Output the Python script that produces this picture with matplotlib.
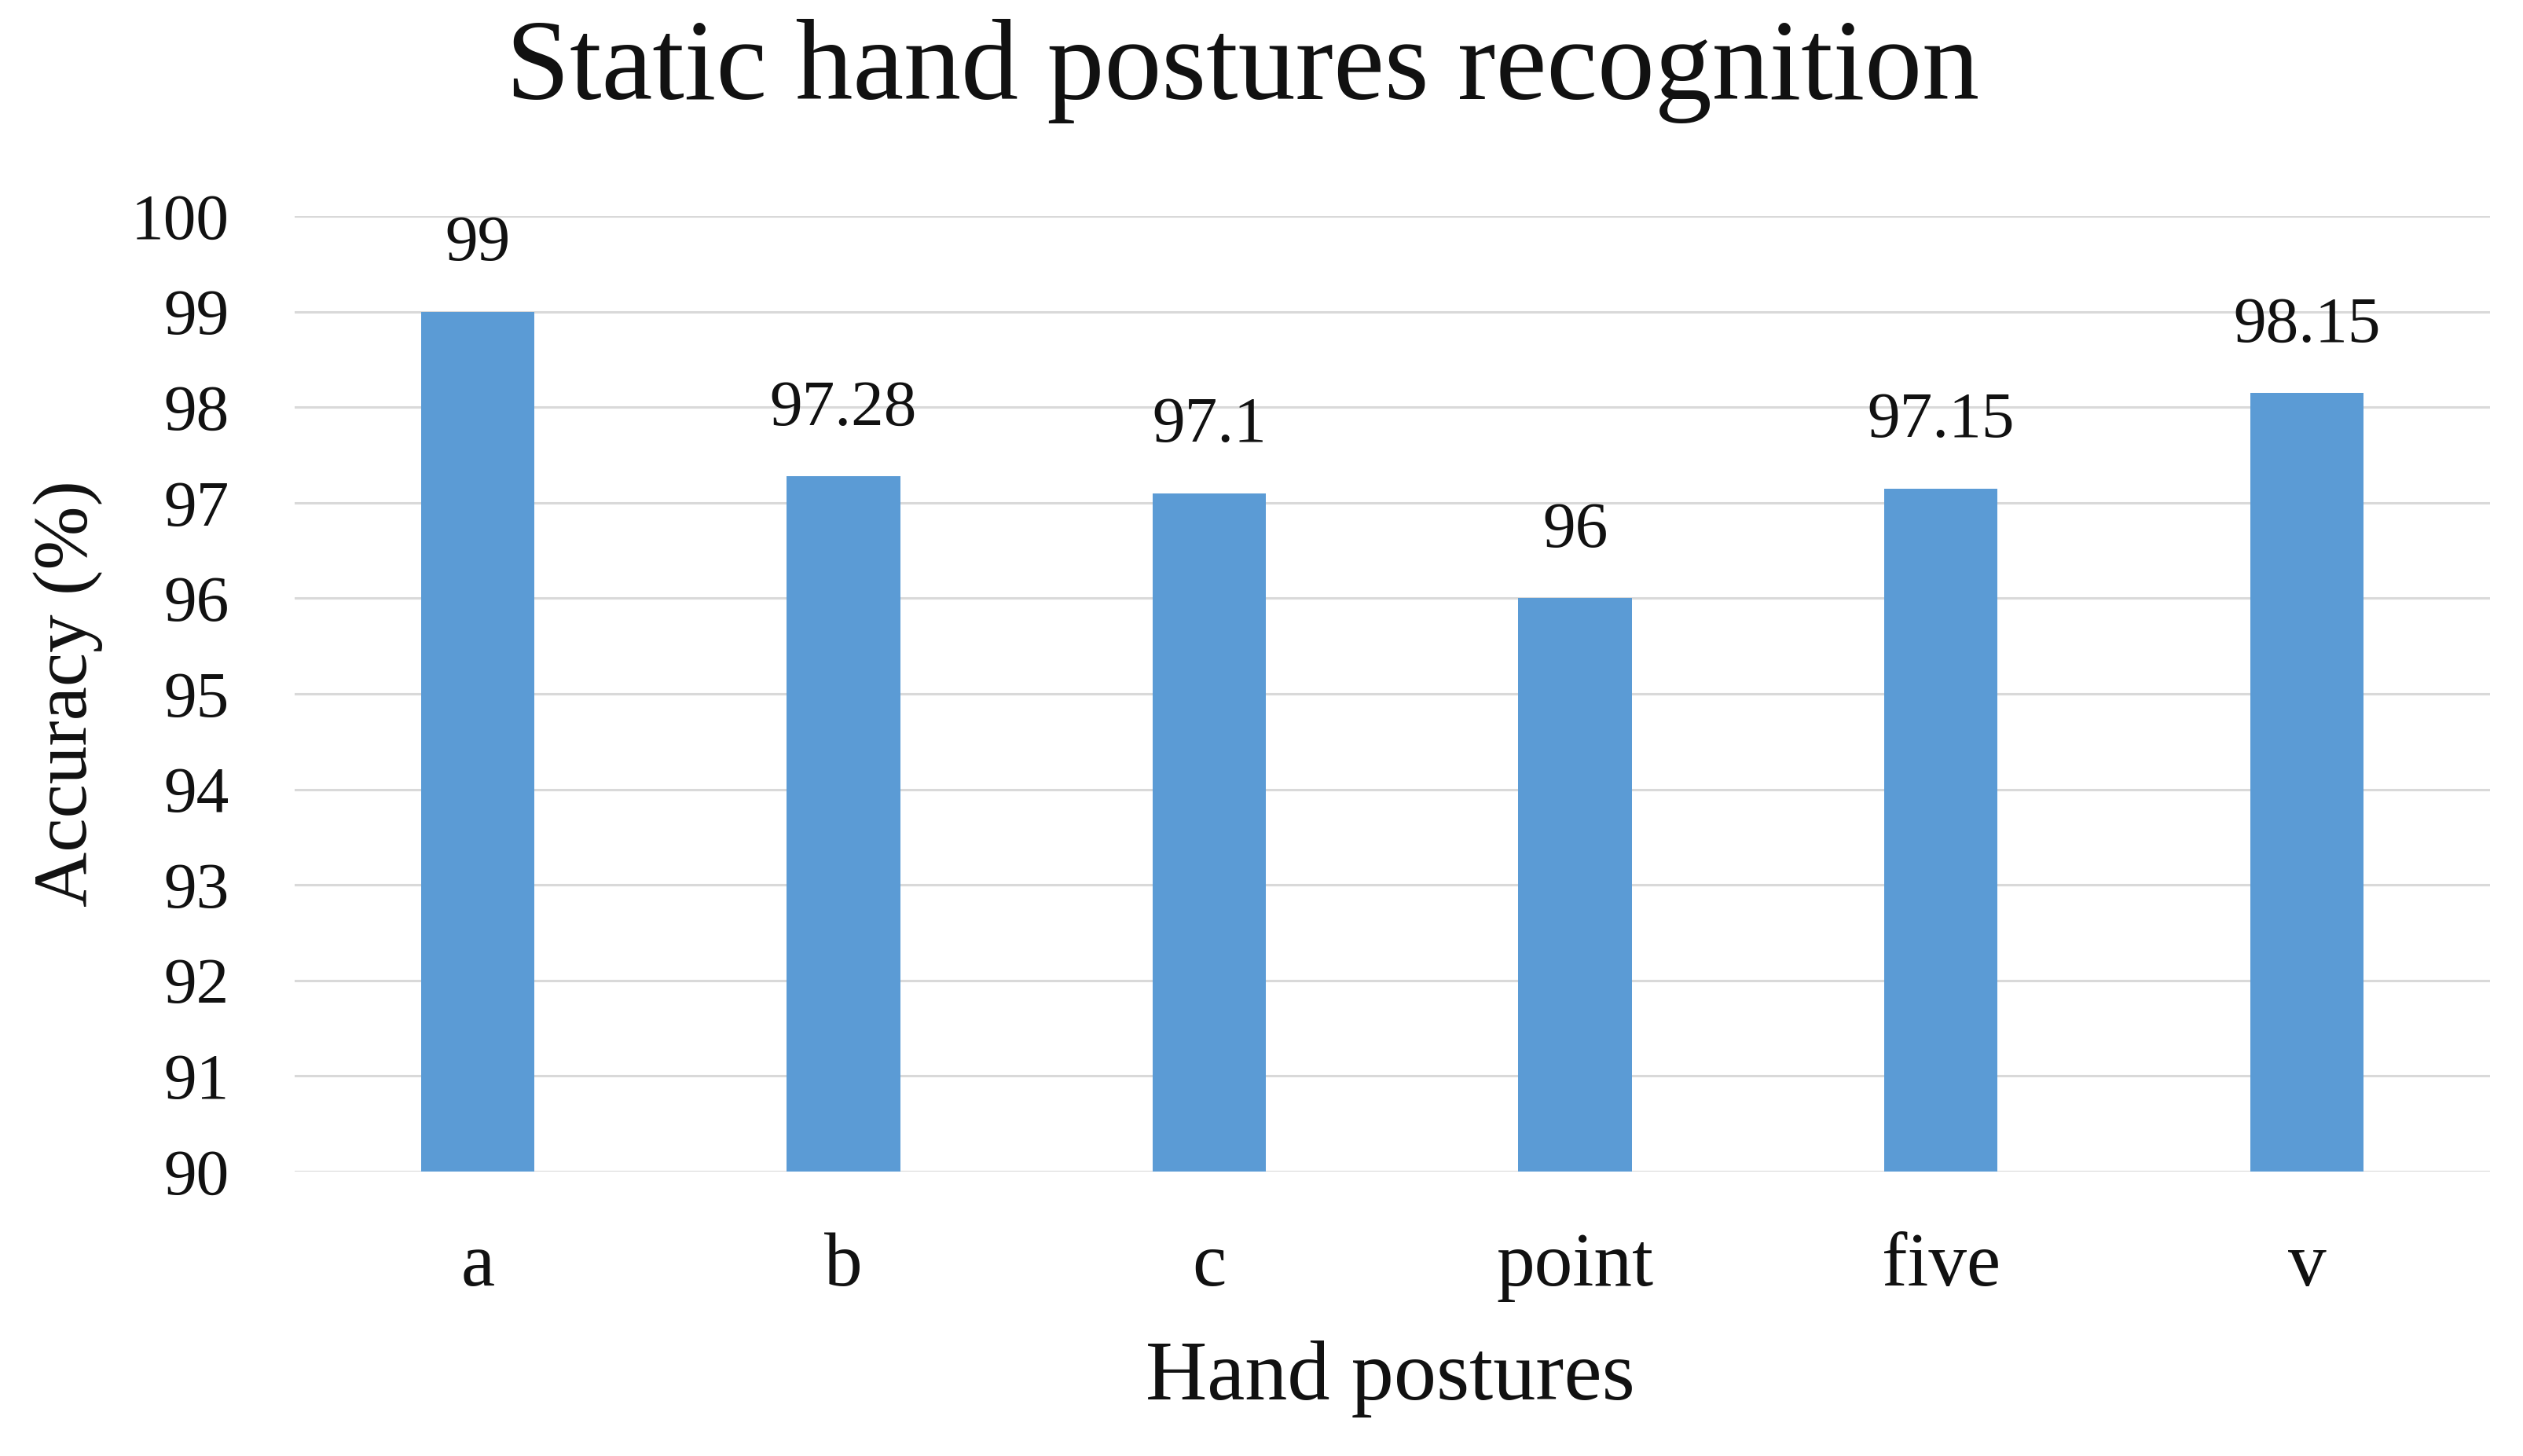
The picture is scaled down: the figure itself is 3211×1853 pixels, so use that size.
import matplotlib.pyplot as plt
import numpy as np

postures = ['a', 'b', 'c', 'point', 'five', 'v']
accuracy = [99, 97.28, 97.1, 96, 97.15, 98.15]
labels = ['99', '97.28', '97.1', '96', '97.15', '98.15']
yticks = list(range(90, 101))

plt.rcParams['font.family'] = ['Liberation Serif', 'DejaVu Serif']

fig = plt.figure(figsize=(32.11, 18.53), dpi=100)
ax = fig.add_axes([0.1168, 0.1954, 0.870, 0.6562])

x = np.arange(len(postures))
bars = ax.bar(x, accuracy, width=0.31, color='#5B9BD5', zorder=3)

# value labels above bars
for xi, v, lab in zip(x, accuracy, labels):
    ax.annotate(lab, (xi, v), xytext=(0, 34), textcoords='offset points',
                ha='center', va='bottom', fontsize=60, color='#111111')

ax.set_ylim(90, 100)
ax.set_xlim(-0.5, len(postures) - 0.5)
ax.set_yticks(yticks)
ax.set_yticklabels([str(t) for t in yticks], fontsize=60, color='#111111')
ax.set_xticks(x)
ax.set_xticklabels(postures, fontsize=70, color='#111111')
ax.tick_params(axis='y', length=0, pad=60)
ax.tick_params(axis='x', length=0, pad=56)

ax.grid(axis='y', color='#D9D9D9', linewidth=2.2, zorder=0)
for s in ax.spines.values():
    s.set_visible(False)

fig.text(0.4925, 0.951, 'Static hand postures recognition', fontsize=105,
         ha='center', va='center', color='#111111')
fig.text(0.027, 0.5235, 'Accuracy (%)', fontsize=70, rotation=90,
         ha='center', va='center', color='#111111')
fig.text(0.551, 0.053, 'Hand postures', fontsize=78,
         ha='center', va='center', color='#111111')

plt.savefig('out.png', dpi=100)
